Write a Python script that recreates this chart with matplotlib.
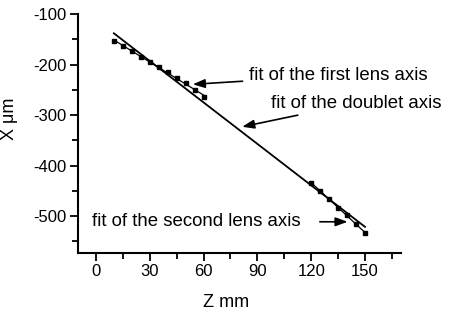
import matplotlib
matplotlib.use("Agg")
import matplotlib.pyplot as plt
import numpy as np

plt.rcParams['font.family'] = ['Liberation Sans', 'DejaVu Sans']
plt.rcParams['axes.unicode_minus'] = False

# measured points along the first lens (Z in mm, X in um)
Z_FIRST = [10, 15, 20, 25, 30, 35, 40, 45, 50, 55, 60]
X_FIRST = [-153, -163, -173, -184, -194, -204, -215, -226, -237, -250, -264]

# measured points along the second lens
Z_SECOND = [120, 125, 130, 135, 140, 145, 150]
X_SECOND = [-434, -450, -466, -483, -498, -516, -533]

# fitted doublet axis, end points
Z_DOUBLET = [10, 150]
X_DOUBLET = [-138, -521]

fig = plt.figure(figsize=(4.64, 3.2), dpi=100)
ax = fig.add_axes([0.168, 0.209, 0.696, 0.747])

ax.plot(Z_FIRST, X_FIRST, 's', color='black', markersize=3.5)
ax.plot(Z_SECOND, X_SECOND, 's', color='black', markersize=3.5)

# straight fits through each lens
for zs, xs in [(Z_FIRST, X_FIRST), (Z_SECOND, X_SECOND)]:
    k, b = np.polyfit(zs, xs, 1)
    zz = np.array([zs[0], zs[-1]])
    ax.plot(zz, k * zz + b, color='black', linewidth=0.9)

ax.plot(Z_DOUBLET, X_DOUBLET, color='black', linewidth=1.3)

arrow = dict(arrowstyle='-|>,head_length=0.6,head_width=0.22', color='black',
             lw=1.2, mutation_scale=12, shrinkA=3, shrinkB=0)
ax.annotate("fit of the first lens axis", xy=(54, -239), xytext=(85.6, -221),
            fontsize=13.4, va='center', ha='left', arrowprops=arrow)
ax.annotate("fit of the doublet axis", xy=(81.5, -323), xytext=(97.4, -276),
            fontsize=13.4, va='center', ha='left', arrowprops=arrow)
ax.text(-2.2, -511, "fit of the second lens axis", fontsize=13.4,
        va='center', ha='left')
ax.annotate("", xy=(140.3, -511), xytext=(122.5, -511), arrowprops=arrow)

ax.set_xlim(-10, 170)
ax.set_ylim(-573, -100)
ax.set_xticks([0, 30, 60, 90, 120, 150])
ax.set_xticks(np.arange(15, 170, 30), minor=True)
ax.set_yticks([-100, -200, -300, -400, -500])
ax.set_yticks([-150, -250, -350, -450, -550], minor=True)

for s in ['top', 'right']:
    ax.spines[s].set_visible(False)
for s in ['left', 'bottom']:
    ax.spines[s].set_linewidth(1.5)
ax.tick_params(which='major', length=6, width=1.3, labelsize=12, pad=2)
ax.tick_params(which='minor', length=4, width=1.3)

ax.set_xlabel("Z mm", fontsize=13)
ax.set_ylabel("X μm", fontsize=13)
ax.xaxis.set_label_coords(0.46, -0.17)
ax.yaxis.set_label_coords(-0.185, 0.56)

fig.savefig("out.png", dpi=100)
